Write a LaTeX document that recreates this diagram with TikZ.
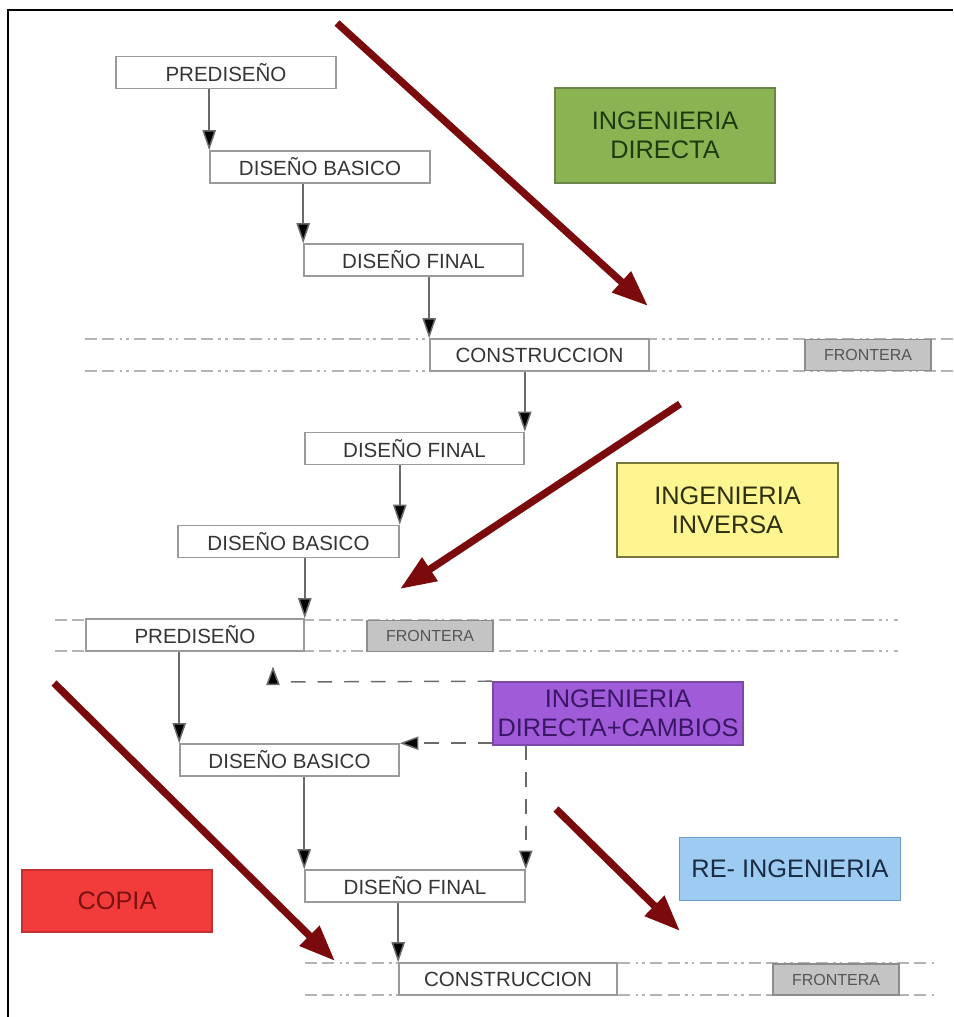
\documentclass[tikz,border=0pt]{standalone}
\usepackage{fontspec}
\setmainfont{Liberation Sans}
\usetikzlibrary{arrows.meta,calc}
\definecolor{boxline}{HTML}{9A9A9A}
\definecolor{flowtext}{HTML}{353535}
\definecolor{conn}{HTML}{6A6A6A}
\definecolor{bound}{HTML}{B4B4B4}
\definecolor{darkred}{RGB}{122,10,12}
\definecolor{frfill}{HTML}{C4C4C4}
\definecolor{frline}{HTML}{8C8C8C}
\definecolor{frtext}{HTML}{555555}
\definecolor{gfill}{HTML}{8AB452}
\definecolor{gline}{HTML}{6B8548}
\definecolor{gtext}{HTML}{1E3A10}
\definecolor{yfill}{HTML}{FCF590}
\definecolor{yline}{HTML}{77773F}
\definecolor{ytext}{HTML}{2E2E10}
\definecolor{pfill}{HTML}{A05CD8}
\definecolor{pline}{HTML}{7A48A8}
\definecolor{ptext}{HTML}{3A1766}
\definecolor{bfill}{HTML}{9DCBF2}
\definecolor{bline}{HTML}{6C9CC8}
\definecolor{btext}{HTML}{1B2B45}
\definecolor{rfill}{HTML}{F23B3B}
\definecolor{rline}{HTML}{C03232}
\definecolor{rtext}{HTML}{7A1212}
\begin{document}
\begin{tikzpicture}[x=0.75pt,y=-0.75pt,
  flowbox/.style={draw=boxline, line width=1.2pt, fill=white, inner sep=0pt,
    minimum height=24pt, text=flowtext, font=\fontsize{15.4}{18}\selectfont},
  frbox/.style={draw=frline, line width=1.2pt, fill=frfill, inner sep=0pt,
    minimum width=94.5pt, minimum height=23.5pt, text=frtext, font=\fontsize{12}{14}\selectfont},
  labelbox/.style={line width=1.2pt, inner sep=0pt, align=center,
    font=\fontsize{19}{21.5}\selectfont},
  flowarrow/.style={draw=conn, line width=1.1pt, -{Triangle[length=15pt,width=10pt,fill=black]}},
  fbarrow/.style={draw=conn, line width=1.1pt, dash pattern=on 11pt off 9pt,
    -{Triangle[length=14pt,width=10pt,fill=black]}},
  boundary/.style={draw=bound, line width=1.2pt,
    dash pattern=on 9pt off 4pt on 9pt off 4pt on 2pt off 3pt on 2pt off 4pt},
  bigarrow/.style={draw=darkred, line width=5.5pt,
    -{Triangle[length=27pt,width=20pt,fill=darkred]}}
]
\useasboundingbox (0,0) rectangle (953,1017);
\fill[white] (0,0) rectangle (953,1017);
% frame
\draw[black, line width=1.6pt] (8,1017) -- (8,10) -- (953,10);

% boundary lines
\draw[boundary] (85,339) -- (953,339);
\draw[boundary] (85,371) -- (953,371);
\draw[boundary] (55,620) -- (898,620);
\draw[boundary] (55,651) -- (898,651);
\draw[boundary] (305,963) -- (935,963);
\draw[boundary] (305,995) -- (935,995);

% flow boxes
\node[flowbox, minimum width=165pt] (pd1) at (226,72.5) {PREDISEÑO};
\node[flowbox, minimum width=165pt] (db1) at (320,167) {DISEÑO BASICO};
\node[flowbox, minimum width=164.25pt] (df1) at (413.5,260) {DISEÑO FINAL};
\node[flowbox, minimum width=164.25pt] (co1) at (539.5,355) {CONSTRUCCION};
\node[flowbox, minimum width=164.25pt] (df2) at (414.5,448.5) {DISEÑO FINAL};
\node[flowbox, minimum width=165.75pt] (db2) at (288.5,541.5) {DISEÑO BASICO};
\node[flowbox, minimum width=163.5pt] (pd2) at (195,635) {PREDISEÑO};
\node[flowbox, minimum width=164.25pt] (db3) at (289.5,760) {DISEÑO BASICO};
\node[flowbox, minimum width=165pt] (df3) at (415,886) {DISEÑO FINAL};
\node[flowbox, minimum width=163.5pt] (co3) at (508,979) {CONSTRUCCION};

% frontera boxes
\node[frbox] (fr1) at (868,355) {FRONTERA};
\node[frbox] (fr2) at (430,636) {FRONTERA};
\node[frbox] (fr3) at (836,979.5) {FRONTERA};

% label boxes
\node[labelbox, draw=gline, fill=gfill, text=gtext, minimum width=165pt, minimum height=71.25pt] (ld) at (665,135.5) {INGENIERIA\\DIRECTA};
\node[labelbox, draw=yline, fill=yfill, text=ytext, minimum width=165.75pt, minimum height=70.5pt] (li) at (727.5,510) {INGENIERIA\\INVERSA};
\node[labelbox, draw=pline, fill=pfill, text=ptext, minimum width=187.5pt, minimum height=47.25pt] (dc) at (618,713.5) {INGENIERIA\\DIRECTA+CAMBIOS};
\node[labelbox, draw=bline, fill=bfill, text=btext, minimum width=165.75pt, minimum height=47.25pt] (re) at (790,869) {RE- INGENIERIA};
\node[labelbox, draw=rline, fill=rfill, text=rtext, minimum width=142.5pt, minimum height=46.5pt] (cp) at (117,901) {COPIA};

% flow connectors
\draw[flowarrow] (pd1.south -| db1.west) -- (db1.north west);
\draw[flowarrow] (db1.south -| df1.west) -- (df1.north west);
\draw[flowarrow] (df1.south -| co1.west) -- (co1.north west);
\draw[flowarrow] (co1.south -| df2.east) -- (df2.north east);
\draw[flowarrow] (df2.south -| db2.east) -- (db2.north east);
\draw[flowarrow] (db2.south -| pd2.east) -- (pd2.north east);
\draw[flowarrow] (pd2.south -| db3.west) -- (db3.north west);
\draw[flowarrow] (db3.south -| df3.west) -- (df3.north west);
\draw[flowarrow] (df3.south -| co3.west) -- (co3.north west);

% feedback (dashed) connectors
\coordinate (fb) at (273,682);
\draw[fbarrow] (dc.north west) -- (fb) -- ([yshift=-11]fb |- pd2.south);
\draw[fbarrow] (db3.north east -| dc.west) -- (db3.north east);
\draw[fbarrow] (df3.north east |- dc.south) -- (df3.north east);

% big red arrows
\coordinate (a1s) at (337,23);  \coordinate (a1e) at (648,306);
\coordinate (a2s) at (680,404); \coordinate (a2e) at (400,589);
\coordinate (a3s) at (54,683);  \coordinate (a3e) at (335,961);
\coordinate (a4s) at (556,809); \coordinate (a4e) at (680,931);
\draw[bigarrow] (a1s) -- (a1e);
\draw[bigarrow] (a2s) -- (a2e);
\draw[bigarrow] (a3s) -- (a3e);
\draw[bigarrow] (a4s) -- (a4e);
\end{tikzpicture}
\end{document}
